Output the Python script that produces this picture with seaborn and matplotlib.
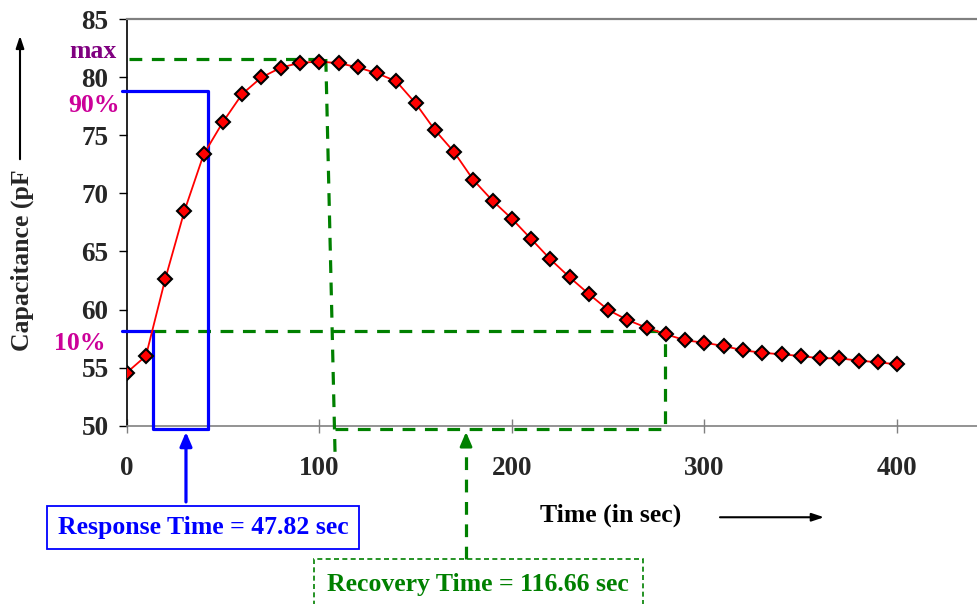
import numpy as np
import pandas as pd
import seaborn as sns
import matplotlib.pyplot as plt
from matplotlib.patches import Rectangle

time_s = [0, 10, 20, 30, 40, 50, 60, 70, 80, 90, 100, 110, 120, 130, 140, 150, 160, 170, 180, 190,
          200, 210, 220, 230, 240, 250, 260, 270, 280, 290, 300, 310, 320, 330, 340, 350, 360, 370,
          380, 390, 400]
capacitance = [54.56, 56.0, 62.6, 68.48, 73.36, 76.14, 78.55, 79.98, 80.81, 81.24, 81.33, 81.21,
               80.84, 80.33, 79.64, 77.75, 75.45, 73.55, 71.15, 69.36, 67.81, 66.07, 64.32, 62.77,
               61.33, 59.96, 59.1, 58.43, 57.87, 57.35, 57.14, 56.86, 56.49, 56.28, 56.14, 56.0,
               55.8, 55.8, 55.6, 55.46, 55.28]
x_ticks = [0, 100, 200, 300, 400]
y_ticks = [50, 55, 60, 65, 70, 75, 80, 85]

level_max = 81.56
level_90 = 78.83
level_10 = 58.15
resp_t10, resp_t90 = 13.7, 42.2
rec_tmax, rec_tend = 103.4, 279.6

response_label = 'Response Time = 47.82 sec'
recovery_label = 'Recovery Time = 116.66 sec'

sns.set_theme(style='white')
plt.rcParams['font.family'] = ['Liberation Serif', 'DejaVu Serif']
plt.rcParams['font.weight'] = 'bold'

fig = plt.figure(figsize=(9.78, 6.04), dpi=100)
ax = fig.add_axes([0.1295, 0.2952, 0.8705, 0.6733])

df = pd.DataFrame({'t': time_s, 'c': capacitance})
sns.lineplot(data=df, x='t', y='c', ax=ax, color='red', lw=1.3, marker='D', markersize=7.2,
             markerfacecolor='red', markeredgecolor='black', markeredgewidth=1.5, zorder=5)

ax.set_xlim(0, 442)
ax.set_ylim(50, 85)
ax.set_xticks(x_ticks)
ax.set_yticks(y_ticks)
ax.set_xticklabels([str(v) for v in x_ticks], fontweight='bold', fontsize=19.5)
ax.set_yticklabels([str(v) for v in y_ticks], fontweight='bold', fontsize=19.5)
ax.set_xlabel('')
ax.set_ylabel('')
ax.tick_params(axis='y', direction='out', length=6, width=1, color='black', pad=7, left=True)
ax.tick_params(axis='x', direction='inout', length=10, width=1, color='#808080', pad=17, bottom=True)
ax.spines['right'].set_visible(False)
ax.spines['top'].set_color('#808080')
ax.spines['top'].set_linewidth(1.6)
ax.spines['bottom'].set_color('#808080')
ax.spines['bottom'].set_linewidth(1.2)
ax.spines['left'].set_color('black')
ax.spines['left'].set_linewidth(1.2)

blue = '#0000FF'
green = '#008000'
magenta = '#CC0099'
fs = 18.5

# response time guide (blue)
ax.plot([-2.4, resp_t90, resp_t90], [level_90, level_90, 49.75], color=blue, lw=2.3, clip_on=False, zorder=4)
ax.plot([-2.4, resp_t10, resp_t10, resp_t90], [level_10, level_10, 49.75, 49.75], color=blue, lw=2.3,
        clip_on=False, zorder=4)

# recovery time guide (green dashed)
gkw = dict(color=green, lw=2.3, dashes=(4, 3), clip_on=False, zorder=3)
ax.plot([1.3, rec_tmax], [level_max, level_max], **gkw)
ax.plot([rec_tmax, 108.2], [level_max, 47.6], **gkw)
ax.plot([108.2, rec_tend, rec_tend], [49.75, 49.75, level_10], **gkw)
ax.plot([resp_t10, rec_tend], [level_10, level_10], **gkw)

# level labels
ax.text(-17.5, 82.2, 'max', color='#800080', fontsize=fs, fontweight='bold', ha='center', va='center',
        clip_on=False)
ax.text(-17.0, 77.6, '90%', color=magenta, fontsize=fs, fontweight='bold', ha='center', va='center',
        clip_on=False)
ax.text(-24.3, 57.1, '10%', color=magenta, fontsize=fs, fontweight='bold', ha='center', va='center',
        clip_on=False)

# response box + arrow
ax.text(39.6, 41.24, response_label, color=blue, fontsize=fs, fontweight='bold', ha='center', va='center',
        bbox=dict(boxstyle='square,pad=0.4', fc='white', ec=blue, lw=1.3), clip_on=False)
ax.annotate('', xy=(30.8, 49.7), xytext=(30.8, 43.2), annotation_clip=False,
            arrowprops=dict(arrowstyle='-|>,head_length=0.7,head_width=0.3', color=blue, lw=2.3))

# recovery box + arrow
ax.add_patch(Rectangle((97.3, 33.5), 170.9, 5.03, fill=False, ec=green, lw=1.2,
                       ls=(0, (3, 2)), clip_on=False))
ax.text(182.5, 36.29, recovery_label, color=green, fontsize=fs, fontweight='bold', ha='center', va='center',
        clip_on=False)
ax.plot([176.2, 176.2], [38.53, 48.6], color=green, lw=2.3, dashes=(4, 3), clip_on=False)
ax.annotate('', xy=(176.2, 49.7), xytext=(176.2, 48.4), annotation_clip=False,
            arrowprops=dict(arrowstyle='-|>,head_length=0.7,head_width=0.3', color=green, lw=2.0))

# axis titles with arrows
ax.text(251.2, 42.3, 'Time (in sec)', color='black', fontsize=fs, fontweight='bold', ha='center',
        va='center', clip_on=False)
ax.annotate('', xy=(363.5, 42.12), xytext=(306.6, 42.12), annotation_clip=False,
            arrowprops=dict(arrowstyle='-|>,head_length=0.6,head_width=0.2', color='black', lw=1.5))
fig.text(22 / 978, 1 - 260 / 604, 'Capacitance (pF', rotation=90, fontsize=fs, fontweight='bold',
         ha='center', va='center')
ax.annotate('', xy=(20 / 978, 1 - 33 / 604), xytext=(20 / 978, 1 - 162 / 604), xycoords='figure fraction',
            textcoords='figure fraction', annotation_clip=False,
            arrowprops=dict(arrowstyle='-|>,head_length=0.6,head_width=0.2', color='black', lw=1.5))

fig.savefig('out.png', dpi=100)
